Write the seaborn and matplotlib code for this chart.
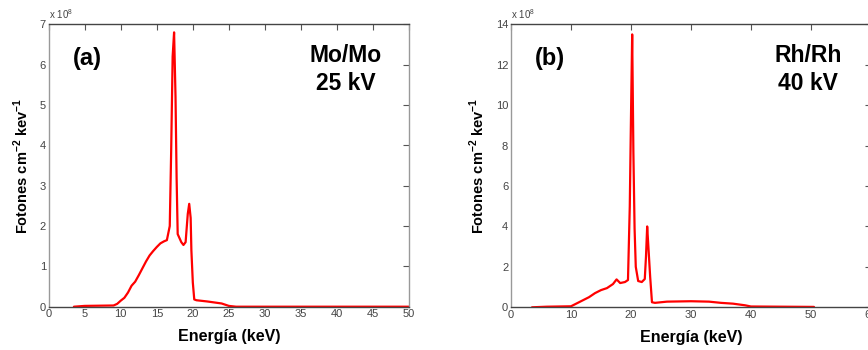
import matplotlib
matplotlib.use("Agg")
import matplotlib.pyplot as plt
import seaborn as sns
import pandas as pd

# Mo/Mo 25 kV spectrum (energy keV, photons x1e8)
mo_energy = [3.5, 5, 9, 9.5, 10, 10.5, 11, 11.5, 12, 12.5, 13, 13.5, 14, 14.5, 15, 15.5,
             16, 16.4, 16.8, 17.0, 17.2, 17.4, 17.6, 17.75, 17.9, 18.1, 18.4, 18.7, 19.0,
             19.3, 19.5, 19.7, 19.8, 20.0, 20.2, 20.5, 22, 24, 25, 26, 50]
mo_flux = [0.0, 0.02, 0.03, 0.07, 0.15, 0.22, 0.35, 0.52, 0.62, 0.78, 0.95, 1.12, 1.27,
           1.38, 1.48, 1.57, 1.62, 1.65, 2.0, 3.9, 6.2, 6.8, 5.2, 3.2, 1.8, 1.72, 1.6,
           1.53, 1.6, 2.3, 2.55, 2.2, 1.4, 0.6, 0.18, 0.16, 0.13, 0.08, 0.02, 0.0, 0.0]

# Rh/Rh 40 kV spectrum
rh_energy = [3.5, 6, 10, 11, 12, 13, 14, 15, 16, 17, 17.6, 18.2, 19.0, 19.5, 19.8, 20.0,
             20.2, 20.4, 20.6, 20.8, 21.2, 21.8, 22.3, 22.5, 22.7, 22.9, 23.2, 23.5, 24,
             26, 30, 33, 35, 37, 39, 40, 45, 50.5]
rh_flux = [0.0, 0.03, 0.05, 0.2, 0.35, 0.5, 0.7, 0.85, 0.95, 1.15, 1.38, 1.2, 1.25, 1.35,
           5.0, 9.4, 13.5, 7.7, 3.9, 2.0, 1.3, 1.25, 1.4, 2.5, 4.0, 3.0, 1.5, 0.25, 0.22,
           0.28, 0.3, 0.28, 0.22, 0.18, 0.1, 0.04, 0.03, 0.02]

panels = [
    dict(x=mo_energy, y=mo_flux, tag="(a)", target="Mo/Mo", kv="25 kV",
         xticks=list(range(0, 51, 5)), yticks=list(range(0, 8)), xlim=(0, 50), ylim=(0, 7)),
    dict(x=rh_energy, y=rh_flux, tag="(b)", target="Rh/Rh", kv="40 kV",
         xticks=list(range(0, 61, 10)), yticks=list(range(0, 15, 2)), xlim=(0, 60), ylim=(0, 14)),
]

sns.set_style("white")
plt.rcParams["font.family"] = ["Liberation Sans", "DejaVu Sans"]
plt.rcParams["text.color"] = "black"
plt.rcParams["axes.labelcolor"] = "black"
plt.rcParams["mathtext.fontset"] = "custom"
plt.rcParams["mathtext.rm"] = "Liberation Sans"
plt.rcParams["mathtext.bf"] = "Liberation Sans:bold"

fig = plt.figure(figsize=(8.68, 3.5), dpi=100)
positions = [[0.0561, 0.1237, 0.4151, 0.8069], [0.5887, 0.122, 0.4147, 0.8086]]

for pos, p in zip(positions, panels):
    ax = fig.add_axes(pos)
    df = pd.DataFrame({"E": p["x"], "F": p["y"]})
    sns.lineplot(data=df, x="E", y="F", color="#ff0000", lw=1.6, ax=ax, sort=False,
                 estimator=None)
    ax.set_xlim(*p["xlim"])
    ax.set_ylim(*p["ylim"])
    ax.set_xticks(p["xticks"])
    ax.set_yticks(p["yticks"])
    ax.tick_params(direction="in", length=4, width=0.8, top=True, right=True,
                   labelsize=8, colors="#555555", labelcolor="#444444", pad=2)
    for s in ["left", "right"]:
        ax.spines[s].set_color("#999999")
    for s in ["top", "bottom"]:
        ax.spines[s].set_color("#444444")
    for s in ax.spines.values():
        s.set_linewidth(1.0)
    ax.set_xlabel("Energía (keV)", fontsize=11.5, fontweight="bold", labelpad=7)
    ax.set_ylabel(r"Fotones cm$^{\mathbf{-2}}$ kev$^{\mathbf{-1}}$", fontsize=10.5,
                  fontweight="bold", labelpad=6)
    ax.text(0.0, 1.012, r"x 10$^{8}$", transform=ax.transAxes, fontsize=7,
            color="#444444", ha="left", va="bottom")
    ax.text(0.067, 0.88, p["tag"], transform=ax.transAxes, fontsize=17,
            fontweight="bold", ha="left", va="center")
    ax.text(0.825, 0.891, p["target"], transform=ax.transAxes, fontsize=16.5,
            fontweight="bold", ha="center", va="center")
    ax.text(0.825, 0.792, p["kv"], transform=ax.transAxes, fontsize=16.5,
            fontweight="bold", ha="center", va="center")

fig.savefig("out.png", dpi=100)
